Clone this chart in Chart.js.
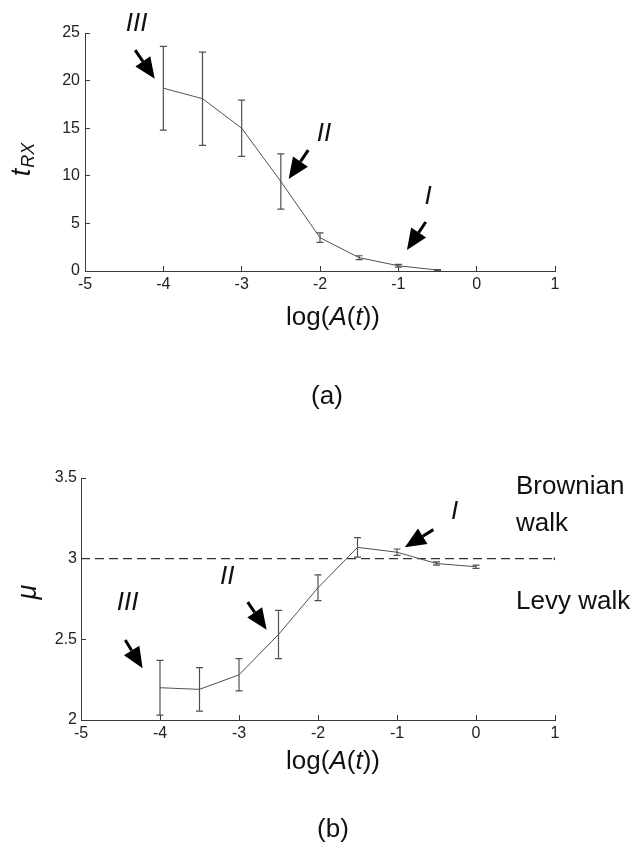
<!DOCTYPE html>
<html>
<head>
<meta charset="utf-8">
<script src="https://cdn.jsdelivr.net/npm/chart.js@4.4.1/dist/chart.umd.min.js"></script>
<style>
  html, body { margin: 0; padding: 0; background: #fff; }
  #wrap { position: relative; width: 640px; height: 848px; }
  .panel { position: absolute; left: 0; width: 640px; }
  #panelA { top: 0; height: 420px; }
  #panelB { top: 420px; height: 428px; }
</style>
</head>
<body>
<div id="wrap">
  <div class="panel" id="panelA"><canvas id="chartA"></canvas></div>
  <div class="panel" id="panelB"><canvas id="chartB"></canvas></div>
</div>
<script>
// ---- data ----
const logA_a = [-4, -3.5, -3, -2.5, -2, -1.5, -1, -0.5];
const tRX = [19.2, 18.1, 15.0, 9.4, 3.5, 1.4, 0.55, 0.1];
const tRXErr = [4.4, 4.9, 2.95, 2.9, 0.5, 0.2, 0.15, 0.05];

const logA_b = [-4, -3.5, -3, -2.5, -2, -1.5, -1, -0.5, 0];
const mu = [2.20, 2.19, 2.28, 2.53, 2.82, 3.07, 3.04, 2.97, 2.95];
const muErr = [0.17, 0.135, 0.10, 0.15, 0.08, 0.06, 0.02, 0.01, 0.01];

const brownX = [-5, 1];
const brownMu = [3, 3];

const xTicks = [-5, -4, -3, -2, -1, 0, 1];
const tRXTicks = [0, 5, 10, 15, 20, 25];
const muTicks = [2, 2.5, 3, 3.5];

const FONT = '"Liberation Sans", Arial, sans-serif';
const AXIS = '#3a3a3a';
const LINE = '#505050';

function pts(xs, ys) {
    return xs.map((x, i) => ({ x: x, y: ys[i] }));
}

// error bars drawn through the chart scales
const errorBars = {
    id: 'errorBars',
    afterDatasetsDraw(chart) {
        const ctx = chart.ctx;
        const xs = chart.scales.x, ys = chart.scales.y;
        chart.data.datasets.forEach(ds => {
            if (!ds.errors) return;
            ctx.save();
            ctx.strokeStyle = LINE;
            ctx.lineWidth = 1.2;
            ds.data.forEach((p, i) => {
                const e = ds.errors[i];
                const px = xs.getPixelForValue(p.x);
                const top = ys.getPixelForValue(p.y + e);
                const bot = ys.getPixelForValue(p.y - e);
                ctx.beginPath();
                ctx.moveTo(px, top); ctx.lineTo(px, bot);
                ctx.moveTo(px - 3.5, top); ctx.lineTo(px + 3.5, top);
                ctx.moveTo(px - 3.5, bot); ctx.lineTo(px + 3.5, bot);
                ctx.stroke();
            });
            ctx.restore();
        });
    }
};

function drawArrow(ctx, x1, y1, x2, y2) {
    const ang = Math.atan2(y2 - y1, x2 - x1);
    const headLen = 21, headW = 9;
    const bx = x2 - headLen * Math.cos(ang), by = y2 - headLen * Math.sin(ang);
    ctx.beginPath();
    ctx.moveTo(x1, y1); ctx.lineTo(bx, by);
    ctx.lineWidth = 3; ctx.strokeStyle = '#000';
    ctx.stroke();
    ctx.beginPath();
    ctx.moveTo(x2, y2);
    ctx.lineTo(bx + headW * Math.sin(ang), by - headW * Math.cos(ang));
    ctx.lineTo(bx - headW * Math.sin(ang), by + headW * Math.cos(ang));
    ctx.closePath();
    ctx.fillStyle = '#000';
    ctx.fill();
}

// text runs: [text, italic]
function drawRuns(ctx, runs, cx, cy, size) {
    let w = 0;
    runs.forEach(r => {
        ctx.font = (r[1] ? 'italic ' : '') + size + 'px ' + FONT;
        w += ctx.measureText(r[0]).width;
    });
    let x = cx - w / 2;
    runs.forEach(r => {
        ctx.font = (r[1] ? 'italic ' : '') + size + 'px ' + FONT;
        ctx.fillText(r[0], x, cy);
        x += ctx.measureText(r[0]).width;
    });
}

const notes = {
    id: 'notes',
    afterDraw(chart, args, opts) {
        const ctx = chart.ctx;
        const xs = chart.scales.x, ys = chart.scales.y;
        ctx.save();
        ctx.fillStyle = '#111';
        ctx.textBaseline = 'middle';
        ctx.textAlign = 'left';
        (opts.arrows || []).forEach(a => {
            drawArrow(ctx, xs.getPixelForValue(a.from[0]), ys.getPixelForValue(a.from[1]),
                xs.getPixelForValue(a.to[0]), ys.getPixelForValue(a.to[1]));
            ctx.fillStyle = '#111';
            ctx.textAlign = 'center';
            ctx.font = 'italic 26px ' + FONT;
            ctx.fillText(a.label, xs.getPixelForValue(a.at[0]), ys.getPixelForValue(a.at[1]));
        });
        // x axis title
        ctx.textAlign = 'left';
        drawRuns(ctx, [['log(', false], ['A', true], ['(', false], ['t', true], ['))', false]],
            opts.titleX, opts.titleY, 26);
        // panel letter
        ctx.textAlign = 'center';
        ctx.font = '26px ' + FONT;
        ctx.fillText(opts.letter, opts.letterX, opts.letterY);
        // y axis title (rotated)
        ctx.translate(opts.yTitleX, opts.yTitleY);
        ctx.rotate(-Math.PI / 2);
        ctx.textAlign = 'left';
        if (opts.yTitle === 'tRX') {
            ctx.font = 'italic 27px ' + FONT;
            const tw = ctx.measureText('t').width;
            ctx.font = 'italic 18px ' + FONT;
            const sw = ctx.measureText('RX').width;
            const x0 = -(tw + sw) / 2;
            ctx.font = 'italic 27px ' + FONT;
            ctx.fillText('t', x0, 0);
            ctx.font = 'italic 18px ' + FONT;
            ctx.fillText('RX', x0 + tw + 1, 7);
        } else {
            ctx.font = 'italic 27px ' + FONT;
            ctx.textAlign = 'center';
            ctx.fillText('\u03bc', 0, 0);
        }
        ctx.setTransform(1, 0, 0, 1, 0, 0);
        ctx.restore();
        ctx.save();
        ctx.fillStyle = '#111';
        ctx.textBaseline = 'middle';
        ctx.textAlign = 'left';
        ctx.font = '26px ' + FONT;
        (opts.side || []).forEach(s => ctx.fillText(s[0], s[1], s[2]));
        ctx.restore();
    }
};

function axisOpts(ticks, min, max, fontSize, pad, fitSize, horizontal) {
    return {
        type: 'linear',
        min: min,
        max: max,
        afterBuildTicks: s => { s.ticks = ticks.map(v => ({ value: v })); },
        afterFit: s => {
            if (horizontal) s.height = fitSize; else s.width = fitSize;
        },
        grid: { display: true, drawOnChartArea: false, drawTicks: true, tickLength: -5, color: AXIS, lineWidth: 1 },
        border: { display: true, color: AXIS, width: 1 },
        ticks: {
            color: '#222',
            padding: pad,
            font: { family: FONT, size: fontSize },
            callback: v => String(v)
        }
    };
}

new Chart(document.getElementById('chartA'), {
    type: 'line',
    data: {
        datasets: [{
            data: pts(logA_a, tRX),
            errors: tRXErr,
            borderColor: LINE,
            borderWidth: 1,
            pointRadius: 0,
            tension: 0
        }]
    },
    options: {
        responsive: true,
        maintainAspectRatio: false,
        animation: false,
        layout: { padding: { top: 33, right: 85, left: 0, bottom: 0 } },
        plugins: {
            legend: { display: false },
            tooltip: { enabled: false },
            notes: {
                arrows: [
                    { label: 'III', at: [-4.34, 26.0], from: [-4.36, 23.2], to: [-4.11, 20.2] },
                    { label: 'II', at: [-1.95, 14.4], from: [-2.15, 12.7], to: [-2.40, 9.66] },
                    { label: 'I', at: [-0.62, 7.8], from: [-0.65, 5.15], to: [-0.89, 2.2] }
                ],
                titleX: 333, titleY: 318,
                letter: '(a)', letterX: 327, letterY: 397,
                yTitle: 'tRX', yTitleX: 22, yTitleY: 160
            }
        },
        scales: {
            x: axisOpts(xTicks, -5, 1, 16, 9, 149, true),
            y: axisOpts(tRXTicks, 0, 25, 16, 10, 85, false)
        }
    },
    plugins: [errorBars, notes]
});

new Chart(document.getElementById('chartB'), {
    type: 'line',
    data: {
        datasets: [{
            data: pts(logA_b, mu),
            errors: muErr,
            borderColor: LINE,
            borderWidth: 1,
            pointRadius: 0,
            tension: 0
        }, {
            data: pts(brownX, brownMu),
            borderColor: '#333',
            borderWidth: 1.2,
            borderDash: [9, 5],
            pointRadius: [0, 1.5],
            pointBackgroundColor: '#333',
            pointBorderWidth: 0,
            tension: 0
        }]
    },
    options: {
        responsive: true,
        maintainAspectRatio: false,
        animation: false,
        layout: { padding: { top: 58, right: 85, left: 0, bottom: 0 } },
        plugins: {
            legend: { display: false },
            tooltip: { enabled: false },
            notes: {
                arrows: [
                    { label: 'III', at: [-4.41, 2.725], from: [-4.44, 2.496], to: [-4.22, 2.32] },
                    { label: 'II', at: [-3.15, 2.89], from: [-2.89, 2.73], to: [-2.65, 2.56] },
                    { label: 'I', at: [-0.27, 3.29], from: [-0.54, 3.18], to: [-0.90, 3.07] }
                ],
                titleX: 333, titleY: 342,
                letter: '(b)', letterX: 333, letterY: 410,
                yTitle: 'mu', yTitleX: 28, yTitleY: 172,
                side: [['Brownian', 516, 67], ['walk', 516, 104], ['Levy walk', 516, 182]]
            }
        },
        scales: {
            x: axisOpts(xTicks, -5, 1, 16, 9, 128, true),
            y: axisOpts(muTicks, 2, 3.5, 16, 9, 81, false)
        }
    },
    plugins: [errorBars, notes]
});
</script>
</body>
</html>
